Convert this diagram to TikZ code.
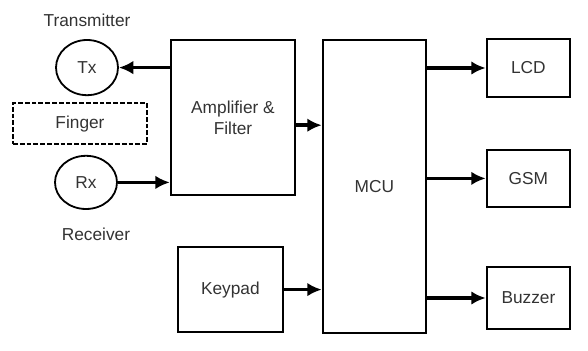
\documentclass[tikz,border=0pt]{standalone}
\usepackage{fontspec}
\setmainfont{Liberation Sans}
\usepackage{tikz}
\usetikzlibrary{calc,positioning}
\usetikzlibrary{arrows.meta,shapes.geometric}

\begin{document}
\begin{tikzpicture}[
	blk/.style={draw,line width=0.6mm,minimum width=#1},
	sig/.style={line width=0.9mm,-{Latex[length=3.6mm,width=3.4mm]}},
	font=\fontsize{12.3}{15}\selectfont,text=black!80]
								 %\draw[color=gray,step=1mm, help lines,opacity=0.3] (0mm,0mm) grid (147mm,87.5mm); %help grids
								 \useasboundingbox (0mm,0mm) rectangle (147mm,87.5mm);
								 \node[draw,ellipse,line width=0.45mm,minimum width=15.5mm,minimum height=13.8mm,inner sep=0pt] (tx) at (21.75mm,70.6mm) {Tx};
								 \node[draw,ellipse,line width=0.45mm,minimum width=15.5mm,minimum height=13.3mm,inner sep=0pt] (rx) at (21.5mm,41.9mm) {Rx};
								 \node (txlabel) at (21.75mm,82.5mm) {Transmitter};
								 \node (rxlabel) at (24mm,28.9mm) {Receiver};
								 \node[draw,line width=0.5mm,dash pattern=on 1.2mm off 0.5mm,minimum width=33.5mm,minimum height=10.25mm] (finger) at (20mm,56.6mm) {Finger};
								 \node[blk=31mm,minimum height=38.75mm,align=center] (amp) at (58.25mm,58.1mm) {Amplifier \&\\Filter};
								 \node[blk=26.25mm,minimum height=21.25mm] (keypad) at (57.6mm,15.1mm) {Keypad};
								 \node[blk=25.75mm,minimum height=73.25mm] (mcu) at (93.6mm,40.9mm) {MCU};
								 \node[blk=20.75mm,minimum height=14.5mm] (lcd) at (132.1mm,70.5mm) {LCD};
								 \node[blk=20.75mm,minimum height=14.25mm] (gsm) at (132.1mm,42.9mm) {GSM};
								 \node[blk=20.75mm,minimum height=15.5mm] (buzzer) at (132.1mm,13mm) {Buzzer};
								 \coordinate (ampout) at ($(amp.east)+(0mm,-1.9mm)$);
								 \draw[sig] (amp.west |- tx.east) -- (tx.east);
								 \draw[sig] (rx.east) -- (rx.east -| amp.west);
								 \draw[sig] (ampout) -- (ampout -| mcu.west);
								 \draw[sig] (keypad.east) -- (keypad.east -| mcu.west);
								 \draw[sig] (mcu.east |- lcd.west) -- (lcd.west);
								 \draw[sig] (mcu.east |- gsm.west) -- (gsm.west);
								 \draw[sig] (mcu.east |- buzzer.west) -- (buzzer.west);
\end{tikzpicture}
\end{document}
